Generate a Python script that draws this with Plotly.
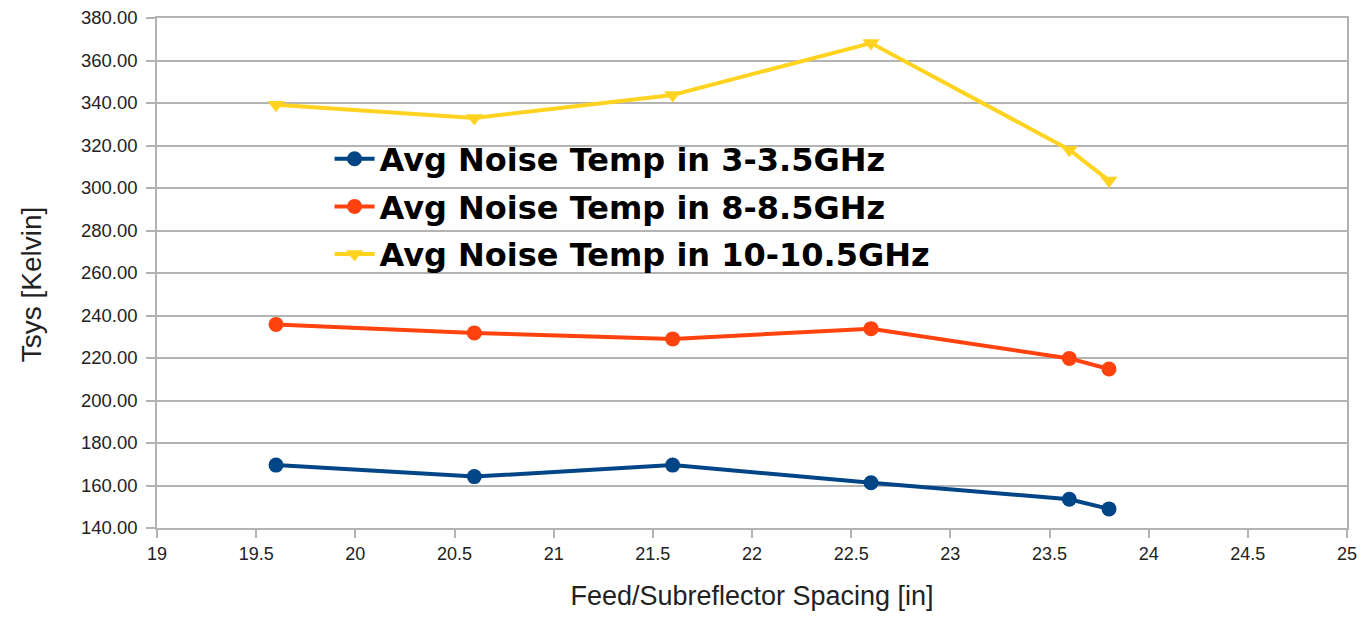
import plotly.graph_objects as go

spacing = [19.6, 20.6, 21.6, 22.6, 23.6, 23.8]
band_3 = [169.6, 164.2, 169.6, 161.3, 153.5, 149.0]
band_8 = [235.8, 231.8, 229.0, 233.8, 219.8, 214.8]
band_10 = [339.2, 333.0, 343.8, 368.2, 318.0, 303.5]

names = ["Avg Noise Temp in 3-3.5GHz", "Avg Noise Temp in 8-8.5GHz", "Avg Noise Temp in 10-10.5GHz"]
colors = ["#004586", "#ff420e", "#ffd320"]
symbols = ["circle", "circle", "triangle-down"]
series = [band_3, band_8, band_10]

fig = go.Figure()
for i, (nm, ys) in enumerate(zip(names, series)):
    fig.add_trace(go.Scatter(
        x=spacing, y=ys, name=nm, mode="lines+markers",
        legendgroup=f"g{i}",
        line=dict(color=colors[i], width=4),
        marker=dict(color=colors[i], symbol=symbols[i], size=15),
    ))

base_font = "Liberation Sans, Arial, sans-serif"

fig.update_layout(
    width=1350, height=603,
    margin=dict(l=149, r=11, t=10, b=83, autoexpand=False),
    paper_bgcolor="white", plot_bgcolor="white",
    font=dict(family=base_font, color="#222222"),
    showlegend=True,
    legend=dict(
        x=0.145, y=0.7775, xanchor="left", yanchor="top",
        bgcolor="rgba(0,0,0,0)",
        font=dict(size=32, color="black", weight="bold", family="DejaVu Sans, sans-serif"),
        tracegroupgap=3,
        itemwidth=40,
    ),
    xaxis=dict(
        range=[19, 25], dtick=0.5, tick0=19, automargin=False,
        showgrid=False, zeroline=False,
        showline=True, linecolor="#b3b3b3", linewidth=1.5, mirror=True,
        ticks="outside", tickcolor="#b3b3b3", ticklen=8, tickwidth=1.5,
        ticklabelstandoff=1, ticklabeloverflow="allow",
        tickfont=dict(size=18, color="#222222"),
        title=dict(text="Feed/Subreflector Spacing [in]", font=dict(size=27, color="#222222"), standoff=31),
    ),
    yaxis=dict(
        range=[140, 380], dtick=20, tick0=140, tickformat=".2f", automargin=False,
        showgrid=True, gridcolor="#b3b3b3", gridwidth=1.5, zeroline=False,
        showline=True, linecolor="#b3b3b3", linewidth=1.5, mirror=True,
        ticks="outside", tickcolor="#b3b3b3", ticklen=9, tickwidth=1.5,
        ticklabelstandoff=5, ticklabeloverflow="allow",
        tickfont=dict(size=18.5, color="#222222"),
    ),
    annotations=[dict(
        text="Tsys [Kelvin]", textangle=-90, showarrow=False,
        xref="paper", yref="paper", x=-0.1058, y=0.478,
        xanchor="center", yanchor="middle",
        font=dict(size=28, color="#222222", family=base_font),
    )],
)

fig.write_html("out.html")
